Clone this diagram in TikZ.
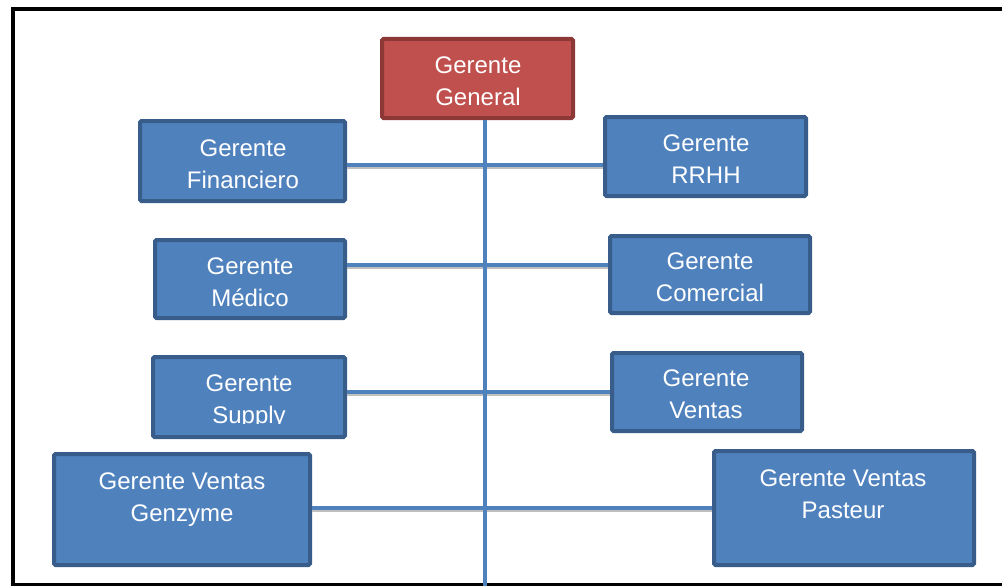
\documentclass[tikz,border=0pt]{standalone}
\usepackage{fontspec}
\setmainfont{Liberation Sans}
\usetikzlibrary{fit}
\definecolor{bfill}{HTML}{4F81BD}
\definecolor{bline}{HTML}{385D8A}
\definecolor{rfill}{HTML}{C0504D}
\definecolor{rline}{HTML}{8C3836}
\definecolor{conn}{HTML}{4F81BD}
\tikzset{
  bluebox/.style={draw=bline, fill=bfill, line width=4pt, rounded corners=1.5pt, inner sep=0pt},
  redbox/.style={draw=rline, fill=rfill, line width=4pt, rounded corners=1.5pt, inner sep=0pt},
  lbl/.style={text=white, align=center, font=\fontsize{24}{32}\selectfont, inner sep=0pt},
  link/.style={draw=conn, line width=4pt},
  linkshadow/.style={draw=black!25, line width=3pt},
  frame/.style={draw=black, line width=4.5pt}
}
\begin{document}
\begin{tikzpicture}[x=1pt,y=-1pt]
\useasboundingbox (0,0) rectangle (1002,586);
\draw[frame] (13,9) -- (1010,9) -- (1010,585) -- (13,585) -- cycle;
% boxes
\node[redbox, fit={(382,39) (573,118)}] (gg) {};
\node[bluebox, fit={(140,121) (345,201)}] (fin) {};
\node[bluebox, fit={(605,117) (806,196)}] (rrhh) {};
\node[bluebox, fit={(155,240) (345,318)}] (med) {};
\node[bluebox, fit={(610,236) (810,313)}] (com) {};
\node[bluebox, fit={(153,357) (345,437)}] (sup) {};
\node[bluebox, fit={(612,353) (802,431)}] (ven) {};
\node[bluebox, fit={(54,454) (310,565)}] (gvg) {};
\node[bluebox, fit={(714,451) (974,565)}] (gvp) {};
% labels
\node[lbl] (ggt) at (478,83.5) {\strut Gerente\\General\strut};
\node[lbl] (fint) at (243,166.5) {\strut Gerente\\Financiero\strut};
\node[lbl] (rrhht) at (706,161.5) {\strut Gerente\\RRHH\strut};
\node[lbl] (medt) at (250,284.5) {\strut Gerente\\Médico\strut};
\node[lbl] (comt) at (710,279.5) {\strut Gerente\\Comercial\strut};
\begin{scope}
\clip (153,357) rectangle (345,423);
\node[lbl] (supt) at (249,401.5) {\strut Gerente\\Supply\strut};
\end{scope}
\node[lbl] (vent) at (706,396.5) {\strut Gerente\\Ventas\strut};
\node[lbl] (gvgt) at (182,499.5) {\strut Gerente Ventas\\Genzyme\strut};
\node[lbl] (gvpt) at (843,496.5) {\strut Gerente Ventas\\Pasteur\strut};
% connectors
\coordinate (vb) at (485,592);
\coordinate (r1) at (485,164.5);
\coordinate (r2) at (485,265);
\coordinate (r3) at (485,392);
\coordinate (r4) at (485,508);
\draw[linkshadow] ([yshift=-2.5pt]fin.east |- r1) -- ([yshift=-2.5pt]rrhh.west |- r1);
\draw[linkshadow] ([yshift=-2.5pt]med.east |- r2) -- ([yshift=-2.5pt]com.west |- r2);
\draw[linkshadow] ([yshift=-2.5pt]sup.east |- r3) -- ([yshift=-2.5pt]ven.west |- r3);
\draw[linkshadow] ([yshift=-2.5pt]gvg.east |- r4) -- ([yshift=-2.5pt]gvp.west |- r4);
\draw[link] (fin.east |- r1) -- (rrhh.west |- r1);
\draw[link] (med.east |- r2) -- (com.west |- r2);
\draw[link] (sup.east |- r3) -- (ven.west |- r3);
\draw[link] (gvg.east |- r4) -- (gvp.west |- r4);
\draw[link] (vb |- gg.south) -- (vb);
\end{tikzpicture}
\end{document}
